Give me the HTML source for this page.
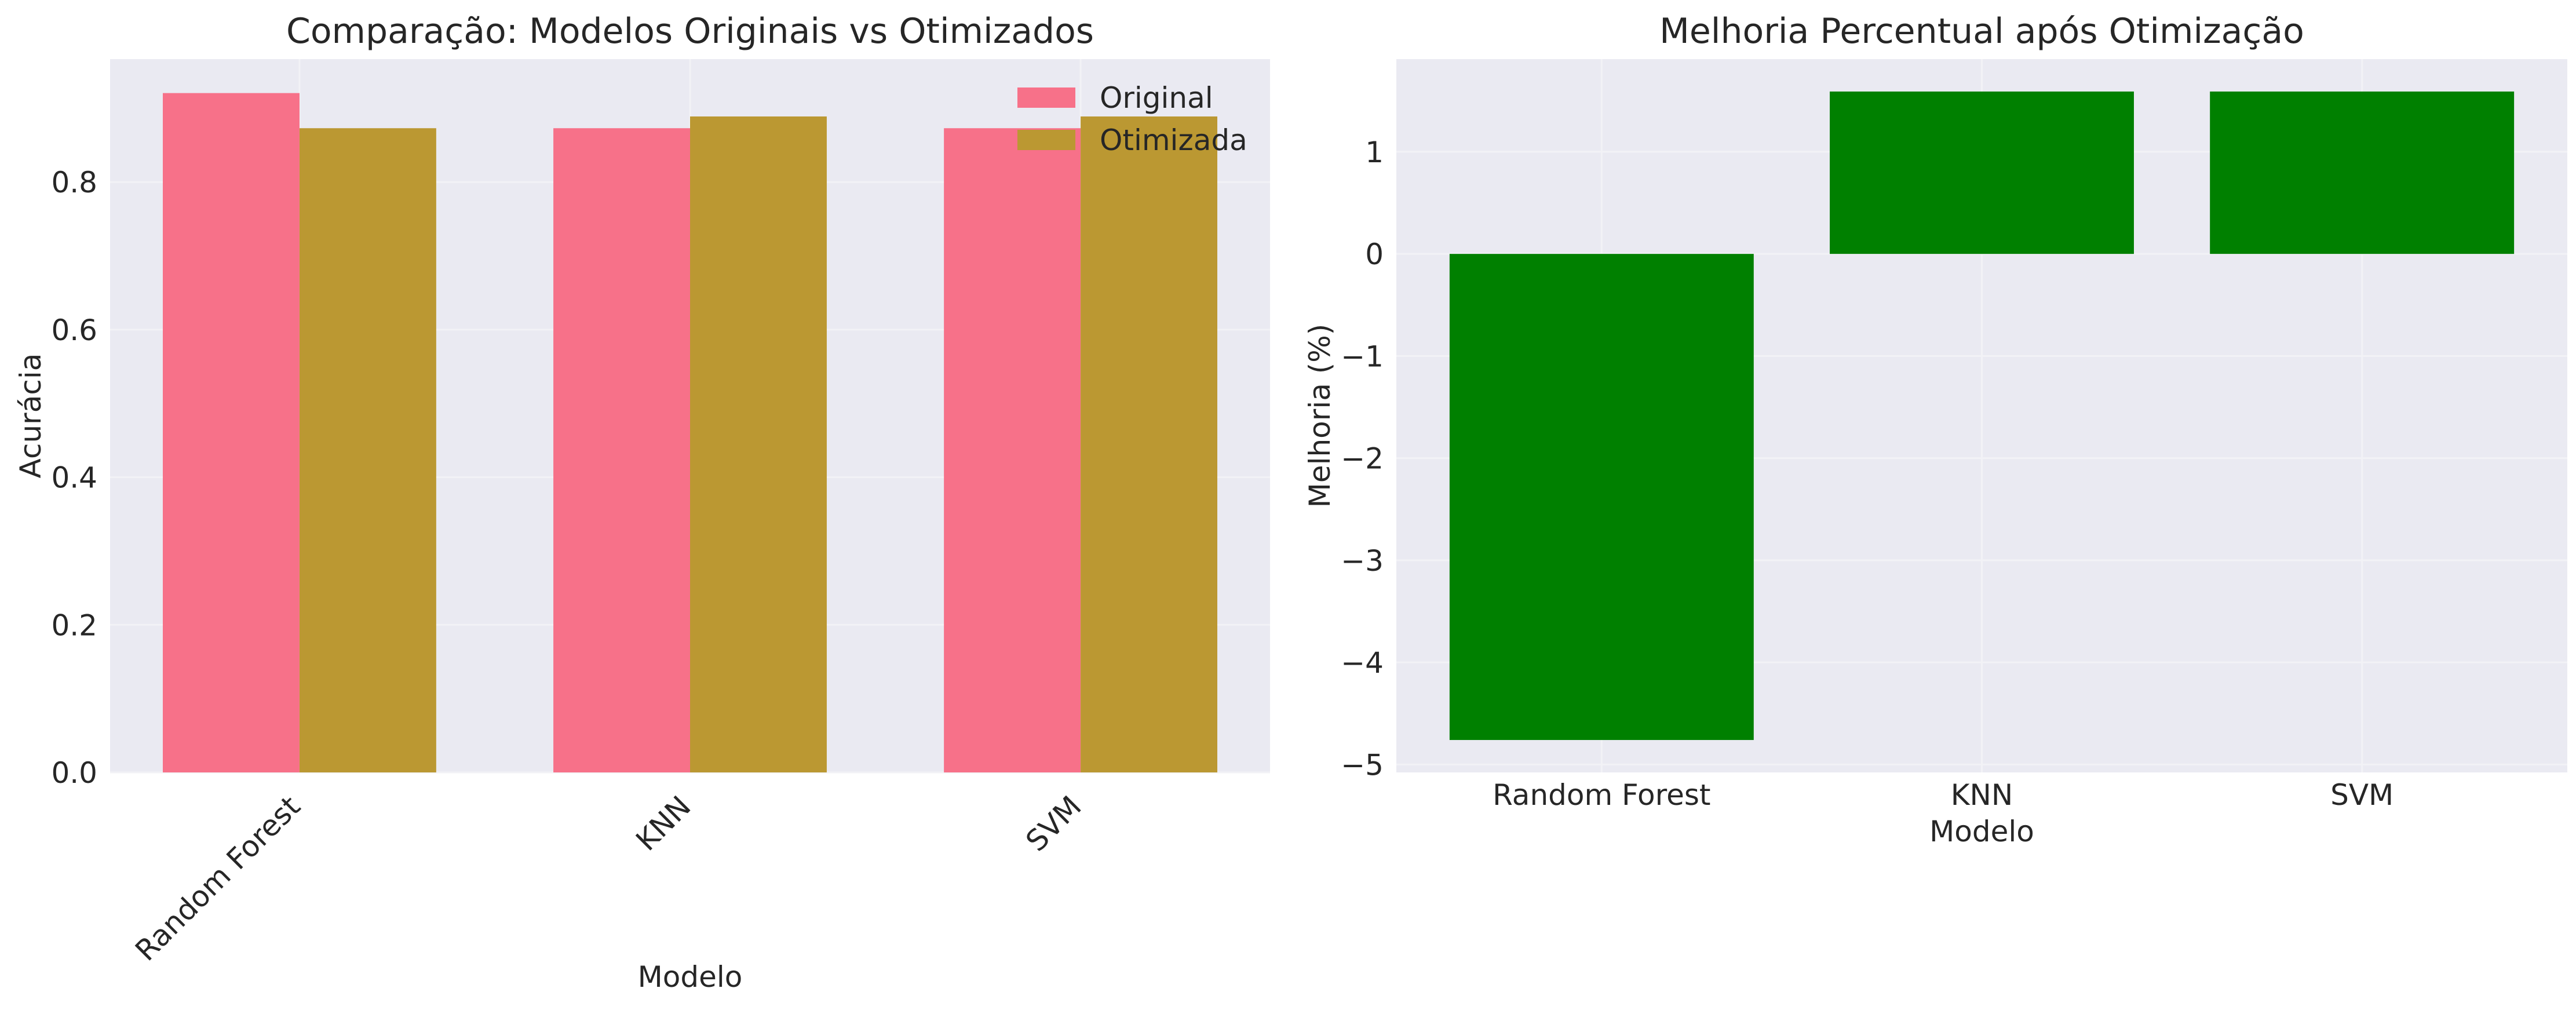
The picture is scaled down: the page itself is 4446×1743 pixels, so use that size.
<!DOCTYPE html>
<html><head><meta charset="utf-8"><style>
html,body{margin:0;padding:0;background:#fff;}
svg{display:block;font-family:"DejaVu Sans","Liberation Sans",sans-serif;}
</style></head><body>
<svg id="chart" width="4446" height="1743" viewBox="0 0 4446 1743" xmlns="http://www.w3.org/2000/svg"></svg>
<script>
const categories = ["Random Forest", "KNN", "SVM"];
const originalAcc = [0.9206, 0.8730, 0.8730];
const optimizedAcc = [0.8730, 0.8889, 0.8889];
const improvement = [-4.76, 1.59, 1.59];
const leftTicks = [0.0, 0.2, 0.4, 0.6, 0.8];
const leftTickLabels = ["0.0", "0.2", "0.4", "0.6", "0.8"];
const rightTicks = [-5, -4, -3, -2, -1, 0, 1];
const rightTickLabels = ["\u22125", "\u22124", "\u22123", "\u22122", "\u22121", "0", "1"];

const NS = "http://www.w3.org/2000/svg";
const svg = document.getElementById("chart");
function mk(tag, attrs, parent, text){
  const e = document.createElementNS(NS, tag);
  for (const k in attrs) e.setAttribute(k, attrs[k]);
  if (text !== undefined) e.textContent = text;
  (parent || svg).appendChild(e);
  return e;
}
const TXT = "#262626", BG = "#EAEAF2", GRID = "#F2F2F6";

// ---------- Left chart ----------
const L = {x0: 190, x1: 2192, y0: 102, y1: 1333};
const lyMax = Math.max(...originalAcc, ...optimizedAcc) * 1.05;
const lxMin = -0.485, lxMax = 2.485;
const lx = v => L.x0 + (v - lxMin) / (lxMax - lxMin) * (L.x1 - L.x0);
const ly = v => L.y1 - v / lyMax * (L.y1 - L.y0);

const lg = mk("g", {});


let bg = mk("rect", {x: L.x0, y: L.y0, width: L.x1 - L.x0, height: L.y1 - L.y0, fill: BG}, lg);


leftTicks.forEach((t, i) => {
  const y = ly(t);
  const gl = mk("line", {x1: L.x0, x2: L.x1, y1: y, y2: y, stroke: GRID, "stroke-width": 3}, lg);
  
  
  const tl = mk("text", {x: L.x0 - 22, y: y + 18, "text-anchor": "end", "font-size": 50, fill: TXT}, lg, leftTickLabels[i]);
  
  
});
categories.forEach((c, i) => {
  const x = lx(i);
  const gl = mk("line", {x1: x, x2: x, y1: L.y0, y2: L.y1, stroke: GRID, "stroke-width": 3}, lg);
  
  
});
const bw = 0.35;
categories.forEach((c, i) => {
  const b1 = mk("rect", {x: lx(i - bw), y: ly(originalAcc[i]), width: lx(i) - lx(i - bw), height: ly(0) - ly(originalAcc[i]), fill: "#F77189"}, lg);
  
  
  const b2 = mk("rect", {x: lx(i), y: ly(optimizedAcc[i]), width: lx(i + bw) - lx(i), height: ly(0) - ly(optimizedAcc[i]), fill: "#BB9832"}, lg);
  
  
  const tx = lx(i) - 22, ty = L.y1 + 36;
  const tl = mk("text", {x: tx, y: ty, "text-anchor": "end", "font-size": 50, fill: TXT, transform: `rotate(-45 ${tx} ${ty})`, "dominant-baseline": "hanging"}, lg, c);
  
  
});
let t = mk("text", {x: (L.x0 + L.x1) / 2, y: 74, "text-anchor": "middle", "font-size": 60, fill: TXT}, lg, "Comparação: Modelos Originais vs Otimizados");


t = mk("text", {x: 70, y: (L.y0 + L.y1) / 2, "text-anchor": "middle", "font-size": 50, fill: TXT, transform: `rotate(-90 70 ${(L.y0 + L.y1) / 2})`}, lg, "Acurácia");


t = mk("text", {x: (L.x0 + L.x1) / 2, y: 1703, "text-anchor": "middle", "font-size": 50, fill: TXT}, lg, "Modelo");


// legend
const leg = mk("g", {}, lg);


[["Original", "#F77189"], ["Otimizada", "#BB9832"]].forEach((e, i) => {
  const r = mk("rect", {x: 1756, y: 151 + i * 73, width: 100, height: 35, fill: e[1]}, leg);
  
  
  const tx = mk("text", {x: 1898, y: 186 + i * 73, "font-size": 50, fill: TXT}, leg, e[0]);
  
  
});

// ---------- Right chart ----------
const R = {x0: 2410, x1: 4431, y0: 102, y1: 1333};
const rMin = Math.min(0, ...improvement), rMax = Math.max(0, ...improvement);
const rMargin = (rMax - rMin) * 0.05;
const ryMin = rMin - rMargin, ryMax = rMax + rMargin;
const rxMin = -0.54, rxMax = 2.54;
const rx = v => R.x0 + (v - rxMin) / (rxMax - rxMin) * (R.x1 - R.x0);
const ry = v => R.y1 - (v - ryMin) / (ryMax - ryMin) * (R.y1 - R.y0);

const rg = mk("g", {});


bg = mk("rect", {x: R.x0, y: R.y0, width: R.x1 - R.x0, height: R.y1 - R.y0, fill: BG}, rg);


rightTicks.forEach((tv, i) => {
  const y = ry(tv);
  const gl = mk("line", {x1: R.x0, x2: R.x1, y1: y, y2: y, stroke: GRID, "stroke-width": 3}, rg);
  
  
  const tl = mk("text", {x: R.x0 - 22, y: y + 18, "text-anchor": "end", "font-size": 50, fill: TXT}, rg, rightTickLabels[i]);
  
  
});
categories.forEach((c, i) => {
  const x = rx(i);
  const gl = mk("line", {x1: x, x2: x, y1: R.y0, y2: R.y1, stroke: GRID, "stroke-width": 3}, rg);
  
  
});
categories.forEach((c, i) => {
  const v = improvement[i];
  const b = mk("rect", {x: rx(i - 0.4), y: Math.min(ry(v), ry(0)), width: rx(i + 0.4) - rx(i - 0.4), height: Math.abs(ry(v) - ry(0)), fill: "#008000"}, rg);
  
  
  const tl = mk("text", {x: rx(i), y: R.y1 + 56, "text-anchor": "middle", "font-size": 50, fill: TXT}, rg, c);
  
  
});
t = mk("text", {x: (R.x0 + R.x1) / 2, y: 74, "text-anchor": "middle", "font-size": 60, fill: TXT}, rg, "Melhoria Percentual após Otimização");


t = mk("text", {x: 2295, y: (R.y0 + R.y1) / 2, "text-anchor": "middle", "font-size": 50, fill: TXT, transform: `rotate(-90 2295 ${(R.y0 + R.y1) / 2})`}, rg, "Melhoria (%)");


t = mk("text", {x: (R.x0 + R.x1) / 2, y: 1452, "text-anchor": "middle", "font-size": 50, fill: TXT}, rg, "Modelo");


</script>
</body></html>
